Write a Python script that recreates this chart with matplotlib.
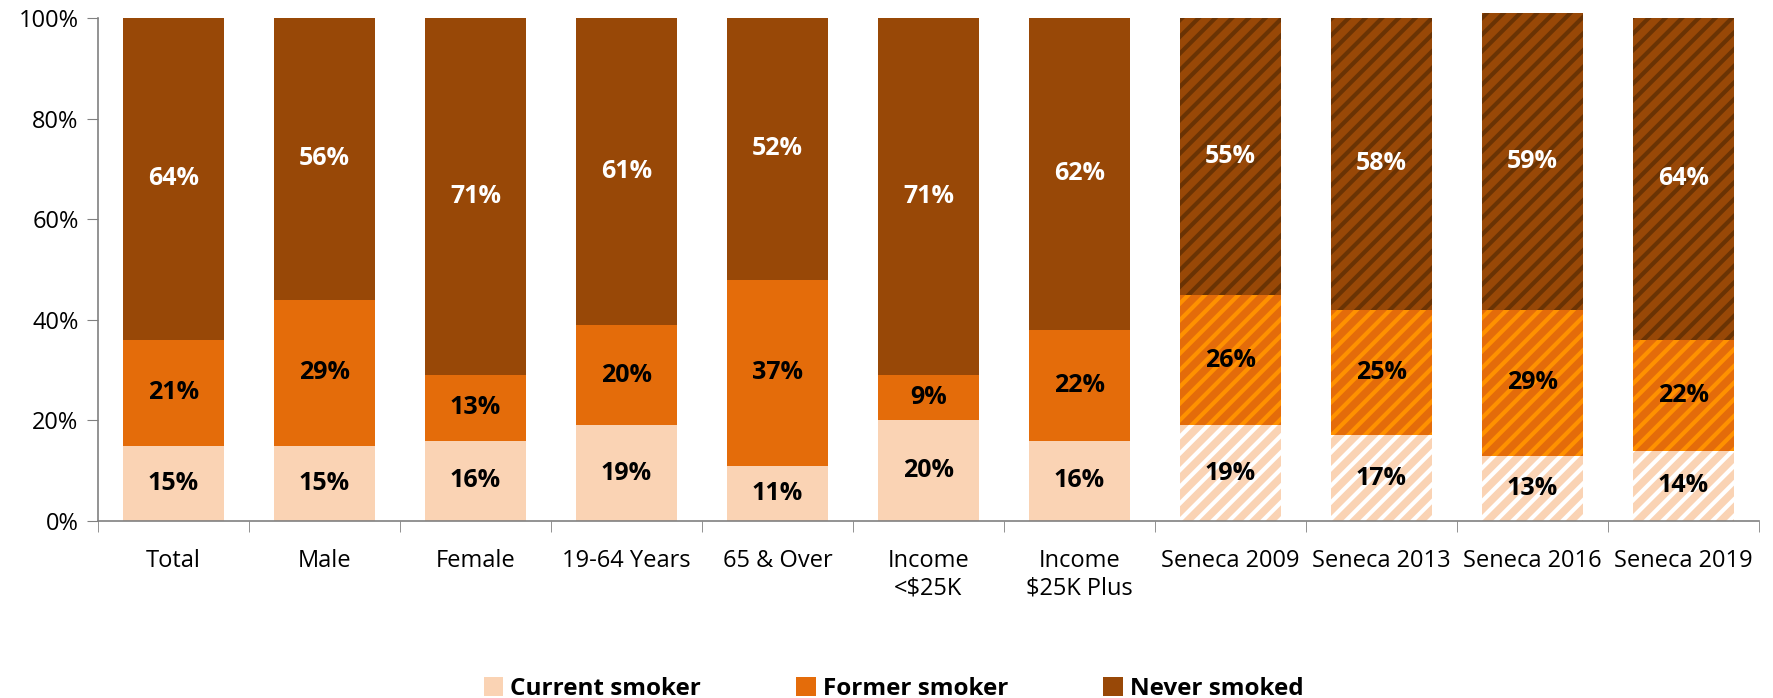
import matplotlib
matplotlib.use("Agg")
import matplotlib.pyplot as plt
from matplotlib.patches import Patch
import numpy as np

# data
categories = ["Total", "Male", "Female", "19-64 Years", "65 & Over",
              "Income\n<\\$25K", "Income\n\\$25K Plus",
              "Seneca 2009", "Seneca 2013", "Seneca 2016", "Seneca 2019"]
current = [15, 15, 16, 19, 11, 20, 16, 19, 17, 13, 14]
former = [21, 29, 13, 20, 37, 9, 22, 26, 25, 29, 22]
never = [64, 56, 71, 61, 52, 71, 62, 55, 58, 59, 64]
hatched = [False] * 7 + [True] * 4
series_names = ["Current smoker", "Former smoker", "Never smoked"]

# styles
face = ["#FAD3B4", "#E46C0A", "#984807"]
stripe = ["#FFFFFF", "#FF9100", "#6A3304"]
text_col = ["black", "black", "white"]

plt.rcParams['font.family'] = ['Open Sans', 'DejaVu Sans']
plt.rcParams['hatch.linewidth'] = 3.0

fig = plt.figure(figsize=(17.73, 6.98), dpi=100)
ax = fig.add_axes([0.0553, 0.2536, 0.9367, 0.7206])

x = np.arange(len(categories))
width = 0.67
series = [current, former, never]
bottom = np.zeros(len(categories))
for s, vals in enumerate(series):
    vals = np.array(vals, dtype=float)
    for i in range(len(categories)):
        if hatched[i]:
            ax.bar(x[i], vals[i] / 100, width, bottom=bottom[i] / 100,
                   color=face[s], edgecolor=stripe[s], hatch="//",
                   linewidth=0, clip_on=False)
        else:
            ax.bar(x[i], vals[i] / 100, width, bottom=bottom[i] / 100,
                   color=face[s], linewidth=0, clip_on=False)
        ax.text(x[i], (bottom[i] + vals[i] / 2) / 100, f"{int(vals[i])}%",
                ha="center", va="center", fontsize=18, fontweight="bold",
                color=text_col[s])
    bottom += vals

ax.set_xlim(-0.5, len(categories) - 0.5)
ax.set_ylim(0, 1)
ax.set_yticks(np.arange(0, 1.01, 0.2))
ax.set_yticklabels([f"{int(v)}%" for v in np.arange(0, 101, 20)], fontsize=17)
ax.set_xticks(x)
ax.set_xticklabels(categories, fontsize=17, va="top")
ax.set_xticks(np.arange(-0.5, len(categories), 1), minor=True)
ax.tick_params(axis="x", which="major", length=0, pad=20)
ax.tick_params(axis="x", which="minor", length=8, color="#808080", direction="out")
ax.tick_params(axis="y", length=8, color="#808080", pad=6)

for side in ["top", "right"]:
    ax.spines[side].set_visible(False)
for side in ["left", "bottom"]:
    ax.spines[side].set_color("#808080")
    ax.spines[side].set_linewidth(1.2)

handles = [Patch(facecolor=face[s], edgecolor="none") for s in range(3)]
fig.legend(handles, series_names, loc="center", bbox_to_anchor=(0.504, 0.013),
           ncol=3, frameon=False, handlelength=0.8, handleheight=0.8,
           handletextpad=0.3, columnspacing=3.9,
           prop={"weight": "bold", "size": 17.5})

fig.savefig("out.png", dpi=100)
